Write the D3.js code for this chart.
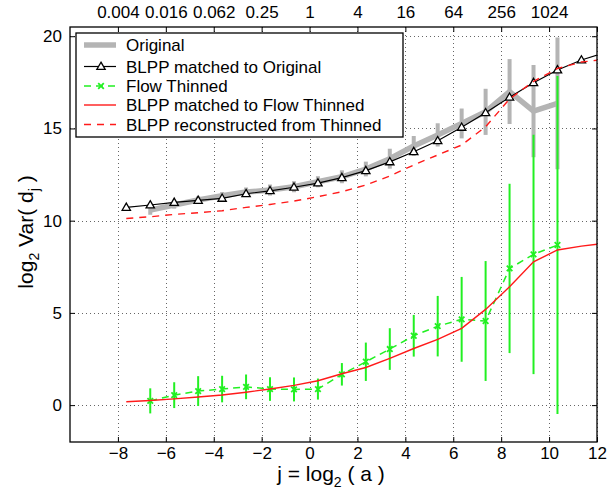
<!DOCTYPE html>
<html>
  <head>
    <meta charset="utf-8">
    <title>log2 Var(d_j) vs scale</title>
    <script src="https://d3js.org/d3.v7.min.js"></script>
    <style>
      body { margin: 0; background: #fff; }
      text { font-family: "Liberation Sans", Arial, Helvetica, sans-serif; }
    </style>
  </head>
  <body>
    <svg id="chart" width="610" height="489"></svg>
    <script>
      // scale positions j (one per octave), k = 0..20
      var jAll = [-7.65, -6.65, -5.65, -4.65, -3.65, -2.65, -1.65, -0.65, 0.35, 1.35, 2.35,
                  3.35, 4.35, 5.35, 6.35, 7.35, 8.35, 9.35, 10.35, 11.35, 12.35];
      // original / flow thinned only have k = 1..18
      var jData = [-6.65, -5.65, -4.65, -3.65, -2.65, -1.65, -0.65, 0.35, 1.35, 2.35,
                   3.35, 4.35, 5.35, 6.35, 7.35, 8.35, 9.35, 10.35];

      var original    = [10.57, 10.85, 11.12, 11.35, 11.55, 11.66, 11.84, 12.11, 12.38, 12.8,
                         13.36, 14.05, 14.65, 15.27, 15.9, 17.0, 15.94, 16.36];
      var originalErr = [0.25, 0.2, 0.2, 0.2, 0.25, 0.3, 0.3, 0.3, 0.35, 0.4,
                         0.54, 0.54, 0.63, 0.81, 1.25, 1.76, 2.5, 3.57];

      var blppOrig = [10.72, 10.85, 10.99, 11.10, 11.21, 11.46, 11.62, 11.81, 12.04, 12.33, 12.71,
                      13.19, 13.74, 14.33, 15.06, 15.85, 16.69, 17.48, 18.17, 18.71, 19.12];

      var thinned    = [0.23, 0.54, 0.76, 0.87, 0.99, 0.87, 0.85, 0.87, 1.67, 2.35,
                        3.04, 3.76, 4.28, 4.65, 4.56, 7.41, 8.17, 8.68];
      var thinnedErr = [0.68, 0.7, 0.81, 0.72, 0.67, 0.64, 0.65, 0.57, 0.61, 1.04,
                        1.13, 1.13, 1.64, 2.3, 3.25, 4.59, 6.49, 9.16];

      var blppThin = [0.18, 0.25, 0.34, 0.44, 0.55, 0.70, 0.87, 1.07, 1.32, 1.70, 2.04,
                      2.53, 3.07, 3.56, 4.16, 5.19, 6.42, 7.77, 8.41, 8.62, 8.78];

      var blppRecon = [10.12, 10.21, 10.34, 10.43, 10.54, 10.72, 10.88, 11.06, 11.30, 11.57, 11.93,
                       12.42, 13.02, 13.56, 14.10, 15.09, 16.6, 17.55, 18.25, 18.6, 18.75];

      var xTicks = [-8, -6, -4, -2, 0, 2, 4, 6, 8, 10, 12];
      var yTicks = [0, 5, 10, 15, 20];
      var topLabels = ["0.004", "0.016", "0.062", "0.25", "1", "4", "16", "64", "256", "1024", ""];

      var legendNames = ["Original", "BLPP matched to Original", "Flow Thinned",
                         "BLPP matched to Flow Thinned", "BLPP reconstructed from Thinned"];

      var gray = "#b4b4b4", green = "#22f022", red = "#ff1a1a";

      var margin = { top: 27, left: 70 };
      var width = 527, height = 415;

      var x = d3.scaleLinear().domain([-10, 12]).range([0, width]);
      var y = d3.scaleLinear().domain([-2, 20.5]).range([height, 0]);

      var svg = d3.select("#chart");
      var g = svg.append("g")
        .attr("transform", "translate(" + margin.left + "," + margin.top + ")");

      svg.append("defs").append("clipPath").attr("id", "plotclip")
        .append("rect").attr("width", width).attr("height", height);

      // grid (dotted)
      var grid = g.append("g").attr("stroke", "#666").attr("stroke-width", 1)
        .attr("stroke-dasharray", "1,3");
      grid.selectAll(".gx").data(xTicks).enter().append("line")
        .attr("x1", d => Math.round(x(d)) + 0.5).attr("x2", d => Math.round(x(d)) + 0.5)
        .attr("y1", 0).attr("y2", height);
      grid.selectAll(".gy").data(yTicks).enter().append("line")
        .attr("y1", d => Math.round(y(d)) + 0.5).attr("y2", d => Math.round(y(d)) + 0.5)
        .attr("x1", 0).attr("x2", width);

      // axes, ticks inward
      var fs = "17px";
      var axBottom = g.append("g").attr("transform", "translate(0," + height + ")")
        .call(d3.axisBottom(x).tickValues(xTicks).tickSize(-5).tickPadding(5)
          .tickFormat(d => d < 0 ? "\u2212" + Math.abs(d) : d));
      var axTop = g.append("g")
        .call(d3.axisTop(x).tickValues(xTicks).tickSize(-5).tickPadding(9)
          .tickFormat((d, i) => topLabels[i]));
      var axLeft = g.append("g")
        .call(d3.axisLeft(y).tickValues(yTicks).tickSize(-5).tickPadding(8));
      var axRight = g.append("g").attr("transform", "translate(" + width + ",0)")
        .call(d3.axisRight(y).tickValues(yTicks).tickSize(-5).tickFormat(""));
      [axBottom, axTop, axLeft, axRight].forEach(function(a) {
        a.select(".domain").remove();
        a.selectAll(".tick line").attr("stroke", "#000");
        a.selectAll("text").attr("fill", "#000").style("font-size", fs)
          .style("font-family", "'Liberation Sans', Arial, sans-serif");
      });

      var plot = g.append("g").attr("clip-path", "url(#plotclip)");

      // Original: thick gray with error bars
      plot.append("g").selectAll("line").data(jData).enter().append("line")
        .attr("x1", d => x(d)).attr("x2", d => x(d))
        .attr("y1", (d, i) => y(original[i] - originalErr[i]))
        .attr("y2", (d, i) => y(original[i] + originalErr[i]))
        .attr("stroke", gray).attr("stroke-width", 4);
      plot.append("path").datum(original)
        .attr("d", d3.line().x((d, i) => x(jData[i])).y(d => y(d)))
        .attr("fill", "none").attr("stroke", gray).attr("stroke-width", 5.5)
        .attr("stroke-linejoin", "round");

      // BLPP matched to original: black with triangles
      plot.append("path").datum(blppOrig)
        .attr("d", d3.line().x((d, i) => x(jAll[i])).y(d => y(d)))
        .attr("fill", "none").attr("stroke", "#000").attr("stroke-width", 1.2);
      var tri = d3.symbol().type(d3.symbolTriangle).size(30);
      plot.append("g").selectAll("path").data(blppOrig).enter().append("path")
        .attr("d", tri)
        .attr("transform", (d, i) => "translate(" + x(jAll[i]) + "," + (y(d) + 0.5) + ")")
        .attr("fill", "#fff").attr("stroke", "#000").attr("stroke-width", 1.3);

      // Flow thinned: green dashed with error bars and x markers
      plot.append("g").selectAll("line").data(jData).enter().append("line")
        .attr("x1", d => x(d)).attr("x2", d => x(d))
        .attr("y1", (d, i) => y(thinned[i] - thinnedErr[i]))
        .attr("y2", (d, i) => y(thinned[i] + thinnedErr[i]))
        .attr("stroke", green).attr("stroke-width", 2);
      plot.append("path").datum(thinned)
        .attr("d", d3.line().x((d, i) => x(jData[i])).y(d => y(d)))
        .attr("fill", "none").attr("stroke", green).attr("stroke-width", 1.5)
        .attr("stroke-dasharray", "7,5");
      var cross = d3.symbol().type(d3.symbolX).size(22);
      plot.append("g").selectAll("path").data(thinned).enter().append("path")
        .attr("d", cross)
        .attr("transform", (d, i) => "translate(" + x(jData[i]) + "," + y(d) + ")")
        .attr("fill", "none").attr("stroke", green).attr("stroke-width", 1.8);

      // BLPP matched to flow thinned: red solid
      plot.append("path").datum(blppThin)
        .attr("d", d3.line().x((d, i) => x(jAll[i])).y(d => y(d)))
        .attr("fill", "none").attr("stroke", red).attr("stroke-width", 1.4);

      // BLPP reconstructed: red dashed
      plot.append("path").datum(blppRecon)
        .attr("d", d3.line().x((d, i) => x(jAll[i])).y(d => y(d)))
        .attr("fill", "none").attr("stroke", red).attr("stroke-width", 1.4)
        .attr("stroke-dasharray", "7,6");

      // frame
      g.append("rect").attr("width", width).attr("height", height)
        .attr("fill", "none").attr("stroke", "#000").attr("stroke-width", 1.3);

      // legend
      var lg = svg.append("g").attr("transform", "translate(76,33)");
      lg.append("rect").attr("width", 327).attr("height", 104)
        .attr("fill", "#fff").attr("stroke", "#000").attr("stroke-width", 1.3);
      var rowY = [12, 33.5, 53, 72, 91.5];
      var rows = lg.selectAll(".row").data(legendNames).enter().append("g")
        .attr("transform", (d, i) => "translate(0," + rowY[i] + ")");
      rows.append("text").attr("x", 50).attr("y", 6).style("font-size", fs)
        .attr("fill", "#000").text(d => d);
      var seg = function(i) { return rows.filter((d, k) => k === i); };
      seg(0).append("line").attr("x1", 8).attr("x2", 40).attr("stroke", gray).attr("stroke-width", 5.5);
      seg(1).append("line").attr("x1", 8).attr("x2", 40).attr("stroke", "#000").attr("stroke-width", 1.2);
      seg(1).append("path").attr("d", tri).attr("transform", "translate(25,0.5)")
        .attr("fill", "#fff").attr("stroke", "#000").attr("stroke-width", 1.3);
      seg(2).append("line").attr("x1", 8).attr("x2", 40).attr("stroke", green).attr("stroke-width", 1.5)
        .attr("stroke-dasharray", "7,5");
      seg(2).append("path").attr("d", cross).attr("transform", "translate(25,0)")
        .attr("fill", "none").attr("stroke", green).attr("stroke-width", 1.8);
      seg(3).append("line").attr("x1", 8).attr("x2", 40).attr("stroke", red).attr("stroke-width", 1.4);
      seg(4).append("line").attr("x1", 8).attr("x2", 40).attr("stroke", red).attr("stroke-width", 1.4)
        .attr("stroke-dasharray", "7,6");

      // axis labels
      var xl = svg.append("text").attr("x", 331).attr("y", 481).attr("text-anchor", "middle")
        .style("font-size", "21px").attr("fill", "#000");
      xl.append("tspan").text("j = log");
      xl.append("tspan").attr("dy", 6).style("font-size", "14px").text("2");
      xl.append("tspan").attr("dy", -6).text(" ( a )");

      var yl = svg.append("text").attr("transform", "translate(33,232) rotate(-90)")
        .attr("text-anchor", "middle").style("font-size", "21px").attr("fill", "#000");
      yl.append("tspan").text("log");
      yl.append("tspan").attr("dy", 6).style("font-size", "14px").text("2");
      yl.append("tspan").attr("dy", -6).text(" Var( d");
      yl.append("tspan").attr("dy", 6).style("font-size", "14px").text("j");
      yl.append("tspan").attr("dy", -6).text(" )");
    </script>
  </body>
</html>
